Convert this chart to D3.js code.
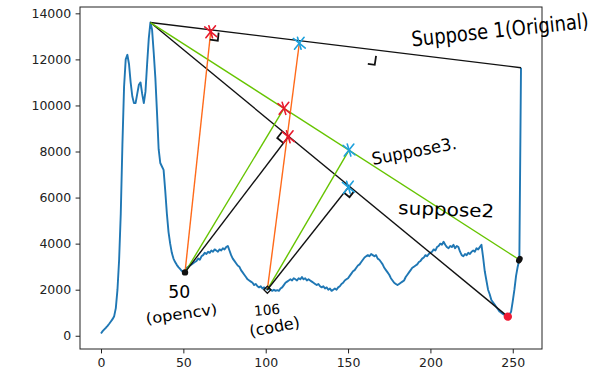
<!DOCTYPE html>
<html>
<head>
<meta charset="utf-8">
<script src="https://cdn.jsdelivr.net/npm/d3@7"></script>
<style>
  body { margin: 0; background: #fff; }
  .axis text { font-family: "DejaVu Sans", sans-serif; font-size: 12.5px; fill: #222; }
  .axis path, .axis line { stroke: #222; }
  .hand { font-family: "DejaVu Sans", sans-serif; fill: #000; }
</style>
</head>
<body>
<div class="chart-container"></div>
<script>
// histogram counts, bin 0..255
const bins = d3.range(0, 256);
const counts = [
  100, 200, 280, 350, 430, 520, 620, 720, 850, 1200,
  2000, 3300, 5300, 8300, 10800, 12000, 12200, 11800, 11000, 10400,
  10100, 10100, 10500, 10900, 11000, 10500, 10100, 10600, 11800, 12900,
  13600, 13300, 12300, 11200, 9700, 8100, 7500, 7350, 7200, 6300,
  5300, 4500, 4000, 3600, 3350, 3200, 3080, 2980, 2900, 2820,
  2790, 2800, 2950, 3000, 3050, 3100, 3150, 3200, 3250, 3350,
  3300, 3450, 3500, 3600, 3550, 3650, 3600, 3700, 3650, 3750,
  3700, 3650, 3750, 3700, 3800, 3750, 3850, 3900, 3700, 3500,
  3350, 3250, 3150, 3050, 3000, 2850, 2750, 2650, 2550, 2450,
  2400, 2350, 2300, 2200, 2250, 2150, 2100, 2150, 2050, 2100,
  2050, 2000, 2050, 2000, 1950, 2000, 1950, 1980, 1950, 2050,
  2100, 2200, 2300, 2350, 2400, 2450, 2400, 2500, 2450, 2400,
  2500, 2450, 2550, 2450, 2500, 2400, 2450, 2400, 2350, 2300,
  2250, 2200, 2250, 2150, 2100, 2150, 2050, 2100, 2000, 2050,
  1950, 2000, 2050, 2000, 2100, 2150, 2250, 2300, 2400, 2450,
  2500, 2600, 2700, 2800, 2850, 2950, 3050, 3100, 3200, 3300,
  3400, 3450, 3500, 3450, 3550, 3500, 3450, 3500, 3350, 3300,
  3200, 3100, 2950, 2850, 2750, 2650, 2500, 2400, 2300, 2250,
  2200, 2250, 2300, 2350, 2400, 2550, 2650, 2750, 2850, 2950,
  3000, 3050, 3100, 3200, 3250, 3350, 3400, 3500, 3450, 3550,
  3600, 3650, 3750, 3700, 3850, 3900, 4000, 3950, 4080, 3950,
  3850, 3800, 3900, 3850, 3950, 3800, 3900, 3850, 3650, 3500,
  3450, 3550, 3500, 3600, 3550, 3650, 3700, 3650, 3800, 3750,
  3850, 3950, 3400, 2800, 2400, 2000, 1800, 1550, 1450, 1350,
  1250, 1150, 1050, 1000, 950, 900, 850, 830, 900, 1050,
  1500, 2000, 2600, 3000, 3300, 11640
];
const x_ticks = [0, 50, 100, 150, 200, 250];
const y_ticks = [0, 2000, 4000, 6000, 8000, 10000, 12000, 14000];

// annotation points [bin, count]
const peak = [30, 13600];
const end_1 = [255, 11640];   // suppose 1 (original)
const end_2 = [247, 830];     // suppose 2
const end_3 = [254, 3300];    // suppose 3
const pt_50 = [51, 2750];
const pt_106 = [101, 2000];
const foot_1_red = [66.6, 13200];
const foot_1_blue = [120.4, 12700];
const foot_3_red = [111.1, 9874];
const foot_3_blue = [150.6, 8063];
const foot_2_red = [113.7, 8640];
const foot_2_blue = [150.2, 6450];
const mark_1_mid = [167, 12150];

// segments: [from, to, colour]
const segments = [
  [peak, end_1, '#111'],
  [peak, end_2, '#111'],
  [peak, end_3, '#66c400'],
  [pt_50, foot_1_red, '#ff6a1a'],
  [pt_106, foot_1_blue, '#ff6a1a'],
  [pt_50, foot_3_red, '#66c400'],
  [pt_106, foot_3_blue, '#66c400'],
  [pt_50, foot_2_red, '#111'],
  [pt_106, foot_2_blue, '#111']
];
const red_marks = [foot_1_red, foot_3_red, foot_2_red];
const blue_marks = [foot_1_blue, foot_3_blue, foot_2_blue];

// hand written labels: [text, bin, count, rotate, font size, width]
const labels = [
  ['Suppose 1(Original)', 189, 12560, -6, 21, 178],
  ['Suppose3.', 165.1, 7410, -11, 17, 86],
  ['suppose2', 180.4, 5285, 2, 18, 96],
  ['50', 40.8, 1640, 0, 17, 22],
  ['(opencv)', 27.7, 508, -8, 15, 72],
  ['106', 93.2, 855, -5, 14, 26],
  ['(code)', 90.8, -56, -11, 16, 51]
];

const svg_width = 611;
const svg_height = 378;
const margin = {top: 7, right: 69, bottom: 29, left: 80};
const chart_width = svg_width - margin.left - margin.right;
const chart_height = svg_height - margin.top - margin.bottom;

const svg = d3.select('.chart-container').append('svg')
  .attr('width', svg_width)
  .attr('height', svg_height);
const g = svg.append('g')
  .attr('transform', `translate(${margin.left},${margin.top})`);

// matplotlib style 5% margins
const x = d3.scaleLinear().domain([-12.75, 267.75]).range([0, chart_width]);
const y = d3.scaleLinear().domain([-575, 14275]).range([chart_height, 0]);
const px = p => [x(p[0]), y(p[1])];

// axes
g.append('g').attr('class', 'axis')
  .attr('transform', `translate(0,${chart_height})`)
  .call(d3.axisBottom(x).tickValues(x_ticks).tickFormat(d3.format('d'))
    .tickSizeInner(4.4).tickSizeOuter(0).tickPadding(4.4));
g.append('g').attr('class', 'axis')
  .call(d3.axisLeft(y).tickValues(y_ticks).tickFormat(d3.format('d'))
    .tickSizeInner(4.4).tickSizeOuter(0).tickPadding(4.4));
g.selectAll('.axis .domain').remove();
g.append('rect')
  .attr('width', chart_width).attr('height', chart_height)
  .attr('fill', 'none').attr('stroke', '#222').attr('stroke-width', 1);

// histogram line
const line = d3.line().x((d, i) => x(bins[i])).y(d => y(d));
g.append('path')
  .datum(counts)
  .attr('d', line)
  .attr('fill', 'none')
  .attr('stroke', '#1f77b4')
  .attr('stroke-width', 1.9)
  .attr('stroke-linejoin', 'round');

// construction lines
g.selectAll('.seg').data(segments).enter().append('line')
  .attr('class', 'seg')
  .attr('x1', d => x(d[0][0])).attr('y1', d => y(d[0][1]))
  .attr('x2', d => x(d[1][0])).attr('y2', d => y(d[1][1]))
  .attr('stroke', d => d[2])
  .attr('stroke-width', 1.4);

// right angle marks
function unit(a, b){
  const dx = b[0] - a[0], dy = b[1] - a[1];
  const len = Math.hypot(dx, dy);
  return [dx / len, dy / len];
}
function right_angle(foot, toward_a, toward_b, s){
  const f = px(foot);
  const ua = unit(f, px(toward_a));
  const ub = unit(f, px(toward_b));
  const p1 = [f[0] + ua[0] * s, f[1] + ua[1] * s];
  const p2 = [p1[0] + ub[0] * s, p1[1] + ub[1] * s];
  const p3 = [f[0] + ub[0] * s, f[1] + ub[1] * s];
  g.append('path')
    .attr('d', d3.line()([p1, p2, p3]))
    .attr('fill', 'none')
    .attr('stroke', '#111')
    .attr('stroke-width', 1.8);
}
right_angle(foot_1_red, end_1, pt_50, 8);
right_angle(foot_2_red, peak, pt_50, 8);
right_angle(foot_2_blue, end_2, pt_106, 7);
// lone mark on line 1: down then back left
(function(){
  const f = px(mark_1_mid);
  const ua = unit(f, px(peak));
  const ub = [-ua[1], ua[0]];
  const dn = ub[1] > 0 ? ub : [-ub[0], -ub[1]];
  const p1 = [f[0] + dn[0] * 9, f[1] + dn[1] * 9];
  const p2 = [p1[0] + ua[0] * 7, p1[1] + ua[1] * 7];
  g.append('path').attr('d', d3.line()([f, p1, p2]))
    .attr('fill', 'none').attr('stroke', '#111').attr('stroke-width', 1.8);
})();

// star markers
function star(points, colour){
  points.forEach(p => {
    const c = px(p);
    const r = 6;
    [[-r, -r * 0.8, r, r * 0.8], [-r * 0.8, r, r * 0.8, -r], [-r * 0.3, -r, r * 0.3, r]].forEach(s => {
      g.append('line')
        .attr('x1', c[0] + s[0]).attr('y1', c[1] + s[1])
        .attr('x2', c[0] + s[2]).attr('y2', c[1] + s[3])
        .attr('stroke', colour).attr('stroke-width', 1.6).attr('stroke-linecap', 'round');
    });
  });
}
star(red_marks, '#e8192c');
star(blue_marks, '#1ea0dc');

// end dots
g.append('circle').attr('cx', x(end_2[0])).attr('cy', y(end_2[1])).attr('r', 4.2).attr('fill', '#ee1c35');
g.append('ellipse').attr('cx', x(end_3[0])).attr('cy', y(end_3[1])).attr('rx', 3).attr('ry', 4)
  .attr('fill', '#111').attr('transform', `rotate(30,${x(end_3[0])},${y(end_3[1])})`);
g.append('circle').attr('cx', x(pt_50[0])).attr('cy', y(pt_50[1])).attr('r', 3.2).attr('fill', '#111');
g.append('rect').attr('x', x(pt_106[0]) - 2.5).attr('y', y(pt_106[1]) - 2.5).attr('width', 5).attr('height', 5)
  .attr('fill', 'none').attr('stroke', '#111').attr('stroke-width', 1.3)
  .attr('transform', `rotate(45,${x(pt_106[0])},${y(pt_106[1])})`);

// hand written text
g.selectAll('.hand').data(labels).enter().append('text')
  .attr('class', 'hand')
  .attr('x', d => x(d[1]))
  .attr('y', d => y(d[2]))
  .attr('transform', d => `rotate(${d[3]},${x(d[1])},${y(d[2])})`)
  .style('font-size', d => d[4] + 'px')
  .attr('textLength', d => d[5])
  .attr('lengthAdjust', 'spacingAndGlyphs')
  .text(d => d[0]);
</script>
</body>
</html>
